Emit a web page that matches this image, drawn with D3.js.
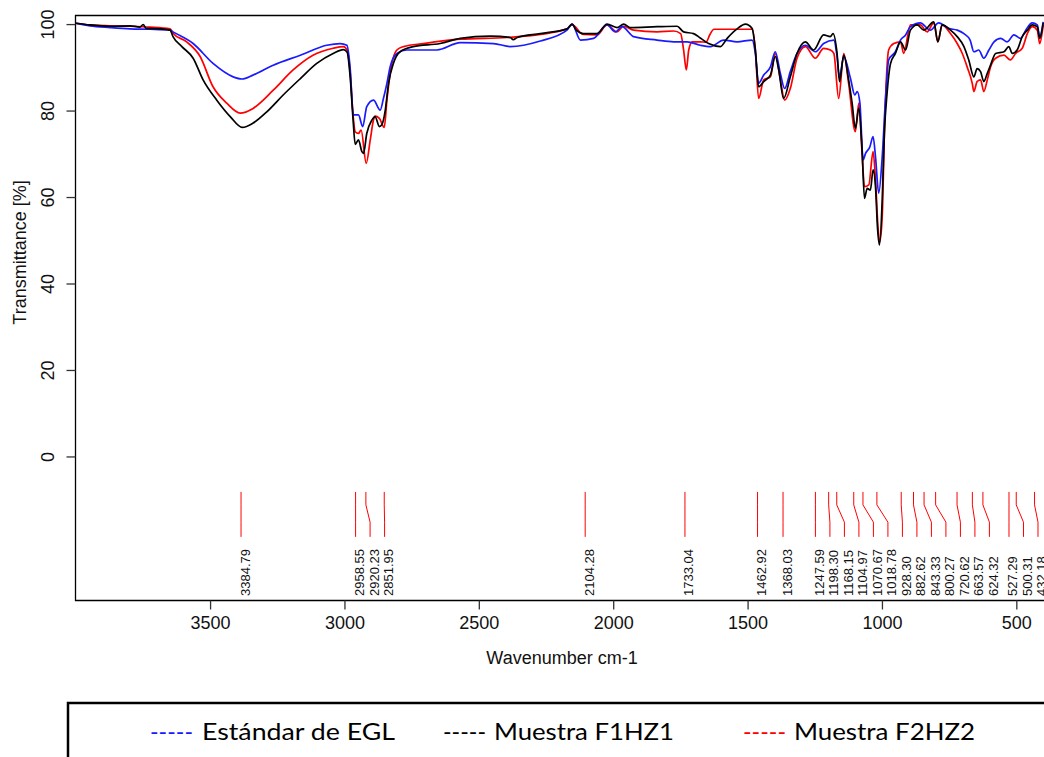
<!DOCTYPE html>
<html>
<head>
<meta charset="utf-8">
<script src="https://cdn.jsdelivr.net/npm/d3@7"></script>
<style>
  html, body { margin: 0; padding: 0; background: #fff; }
  svg { display: block; }
</style>
</head>
<body>
<svg id="chart" width="1044" height="757"></svg>
<script>
// FTIR spectra: wavenumber (cm-1) and transmittance (%)
const seriesEGL = [
  [4000,100.2],[3947,99.6],[3872,99.2],[3798,98.9],[3723,98.8],[3649,98.6],[3638,98.2],
  [3563,95.5],[3489,90.9],[3414,87.8],[3381,87.3],[3340,88.2],[3265,90.5],[3164,92.8],
  [3066,95.1],[3016,95.5],[2991,95.1],[2979,90.0],[2967,79.0],[2948,79.0],[2932,76.3],
  [2917,80.9],[2892,82.4],[2867,80.1],[2855,82.8],[2842,86.3],[2830,90.1],[2805,93.2],
  [2768,94.0],[2656,94.0],[2569,95.7],[2445,95.5],[2383,94.8],[2271,96.1],[2172,98.6],
  [2153,100.0],[2122,96.3],[2073,96.7],[2023,99.8],[1992,98.2],[1967,99.4],[1924,97.1],
  [1837,96.3],[1775,95.9],[1725,95.9],[1676,95.1],[1638,94.8],[1589,96.3],[1539,95.9],
  [1483,96.3],[1471,93.2],[1459,86.3],[1440,88.2],[1415,90.1],[1397,93.6],[1378,88.6],
  [1362,85.1],[1341,89.0],[1316,93.2],[1285,95.1],[1248,93.6],[1217,95.5],[1179,96.3],
  [1167,92.5],[1158,87.8],[1142,92.5],[1117,87.4],[1101,83.6],[1092,84.4],[1082,81.7],
  [1070,68.6],[1061,70.1],[1045,71.6],[1033,74.0],[1024,69.3],[1012,60.9],[999,69.3],
  [987,82.4],[975,91.7],[950,93.6],[931,96.3],[912,97.5],[894,99.4],[857,100.3],
  [820,98.6],[789,100.3],[752,99.0],[720,98.6],[695,97.8],[672,96.3],[658,93.6],
  [640,94.0],[621,92.1],[602,94.0],[583,95.9],[558,96.7],[534,95.9],[509,97.5],
  [484,96.7],[465,98.6],[441,100.3],[422,99.8],[413,97.1],[400,100.5]
];

const seriesF1HZ1 = [
  [4000,100.2],[3947,99.8],[3872,99.5],[3798,99.6],[3761,99.3],[3749,99.9],[3738,99.0],
  [3686,98.9],[3649,98.6],[3638,97.1],[3605,94.8],[3563,92.1],[3526,87.1],[3475,82.4],
  [3425,78.6],[3380,76.1],[3340,77.1],[3289,79.7],[3228,83.6],[3164,87.4],[3103,90.9],
  [3042,93.2],[3004,94.1],[2990,93.5],[2979,88.0],[2968,78.0],[2960,72.2],[2948,73.2],
  [2935,70.5],[2929,70.1],[2917,74.7],[2898,77.8],[2886,78.6],[2870,76.3],[2861,76.7],
  [2848,80.1],[2836,86.3],[2818,90.9],[2793,93.6],[2744,94.8],[2644,95.5],[2569,96.7],
  [2458,97.2],[2383,96.9],[2372,96.4],[2357,96.9],[2271,97.8],[2172,98.9],[2153,100.0],
  [2137,98.6],[2111,97.8],[2060,97.8],[2023,100.0],[1986,99.2],[1961,100.0],[1936,99.2],
  [1837,99.4],[1762,99.5],[1738,98.2],[1701,97.8],[1676,96.8],[1645,95.5],[1601,94.8],
  [1576,96.7],[1539,98.9],[1508,100.0],[1483,99.0],[1471,94.0],[1459,85.5],[1440,86.7],
  [1415,88.2],[1397,92.5],[1384,89.4],[1366,82.8],[1341,87.8],[1316,93.2],[1285,95.9],
  [1254,94.0],[1217,97.5],[1192,97.1],[1182,97.8],[1167,93.2],[1158,86.7],[1142,92.8],
  [1124,87.1],[1111,81.7],[1099,75.9],[1086,80.5],[1074,70.9],[1065,59.7],[1055,62.0],
  [1043,61.6],[1033,66.3],[1024,62.4],[1016,52.4],[1009,48.9],[999,59.3],[991,74.7],
  [981,84.0],[968,90.9],[950,93.2],[931,95.9],[912,94.0],[894,98.6],[869,99.8],
  [844,98.6],[807,100.5],[792,95.9],[776,99.8],[745,98.6],[720,97.1],[695,94.8],
  [677,91.7],[658,87.8],[646,89.7],[633,89.0],[621,86.7],[608,88.6],[596,90.5],
  [577,93.2],[546,93.6],[528,94.8],[515,93.2],[497,94.0],[478,97.1],[459,98.6],
  [441,99.8],[422,99.4],[413,96.7],[400,100.3]
];

const seriesF2HZ2 = [
  [4000,100.2],[3947,99.8],[3872,99.6],[3798,99.5],[3723,99.3],[3649,98.9],[3638,97.9],
  [3587,95.9],[3537,92.5],[3489,85.5],[3438,81.7],[3388,79.4],[3340,80.5],[3265,84.7],
  [3191,89.4],[3117,92.8],[3042,94.4],[3004,94.8],[2990,94.0],[2979,89.0],[2968,79.0],
  [2960,75.1],[2948,74.7],[2938,75.5],[2919,67.8],[2904,73.2],[2892,77.8],[2886,78.7],
  [2870,78.2],[2852,76.1],[2842,82.4],[2830,88.6],[2805,94.0],[2780,94.8],[2706,95.5],
  [2569,96.5],[2395,96.9],[2271,97.6],[2172,98.9],[2153,99.8],[2111,97.6],[2060,97.5],
  [2023,99.8],[1986,98.2],[1961,99.5],[1924,98.6],[1837,98.2],[1775,98.4],[1749,97.8],
  [1738,94.0],[1728,89.4],[1719,94.0],[1706,95.9],[1676,95.9],[1655,95.8],[1640,97.6],
  [1625,98.8],[1483,98.8],[1471,94.0],[1459,82.8],[1440,87.1],[1415,87.8],[1397,93.2],
  [1378,87.1],[1362,82.4],[1341,85.1],[1316,92.1],[1285,94.8],[1248,92.1],[1217,94.4],
  [1192,94.0],[1179,93.2],[1161,82.8],[1142,93.2],[1124,86.3],[1099,75.1],[1086,81.7],
  [1074,70.1],[1065,62.4],[1049,62.8],[1033,70.5],[1024,64.0],[1014,52.4],[1008,49.7],
  [999,55.5],[991,74.7],[975,94.0],[956,95.5],[931,95.9],[919,93.2],[894,99.8],
  [857,99.8],[832,98.2],[807,100.3],[792,95.9],[776,99.8],[745,97.8],[720,95.5],
  [701,93.2],[683,90.1],[664,86.3],[658,84.4],[646,86.7],[633,87.1],[621,84.4],
  [608,87.1],[596,90.1],[577,92.1],[546,92.8],[522,91.7],[503,93.2],[478,94.4],
  [459,97.8],[441,99.4],[422,98.6],[413,95.5],[400,99.8]
];

// Marked band positions (cm-1)
const peakWavenumbers = [
  3384.79, 2958.55, 2920.23, 2851.95, 2104.28, 1733.04, 1462.92, 1368.03,
  1247.59, 1198.30, 1168.15, 1104.97, 1070.67, 1018.78, 928.30, 882.62,
  843.33, 800.27, 720.62, 663.57, 624.32, 527.29, 500.31, 432.18
];

const xTickValues = [3500, 3000, 2500, 2000, 1500, 1000, 500];
const yTickValues = [0, 20, 40, 60, 80, 100];

const seriesNames = ["Estándar de EGL", "Muestra F1HZ1", "Muestra F2HZ2"];
const seriesColors = ["#1a1aff", "#000000", "#ff0000"];

const svg = d3.select("#chart");
const numFont = "'Liberation Sans', Arial, Helvetica, sans-serif";

const x = d3.scaleLinear().domain([4000, 400]).range([75.7, 1043.2]);
const y = d3.scaleLinear().domain([-33.2, 102.1]).range([600, 15]);

// Plot box (right side runs past the canvas)
svg.append("path")
  .attr("d", `M1060,15.5 H75.5 V600.5 H1060`)
  .attr("fill", "none").attr("stroke", "#000").attr("stroke-width", 1.3);

// X axis
const xAxis = svg.append("g")
  .attr("transform", "translate(0,600.5)")
  .call(d3.axisBottom(x).tickValues(xTickValues).tickSize(9).tickSizeOuter(0).tickPadding(6).tickFormat(d3.format("d")));
xAxis.select(".domain").remove();
xAxis.selectAll(".tick line").attr("stroke", "#333").attr("stroke-width", 1.3);
xAxis.selectAll(".tick text")
  .attr("font-family", numFont).attr("font-size", 18).attr("fill", "#111")
  .attr("dy", "0.75em");

svg.append("text")
  .attr("x", 562).attr("y", 664)
  .attr("text-anchor", "middle")
  .attr("font-family", numFont).attr("font-size", 18).attr("fill", "#111")
  .text("Wavenumber cm-1");

// Y axis with labels running parallel to the axis
const yAxis = svg.append("g")
  .attr("transform", "translate(75.5,0)")
  .call(d3.axisLeft(y).tickValues(yTickValues).tickSize(9).tickSizeOuter(0).tickFormat(d3.format("d")));
yAxis.select(".domain").remove();
yAxis.selectAll(".tick line").attr("stroke", "#333").attr("stroke-width", 1.3);
yAxis.selectAll(".tick text")
  .attr("font-family", numFont).attr("font-size", 18).attr("fill", "#111")
  .attr("x", null).attr("dy", null)
  .attr("text-anchor", "middle")
  .attr("transform", "translate(-22,0) rotate(-90)");

svg.append("text")
  .attr("transform", `translate(26,${(y(102.1) + y(-33.2)) / 2 - 55}) rotate(-90)`)
  .attr("text-anchor", "middle")
  .attr("font-family", numFont).attr("font-size", 18).attr("fill", "#111")
  .text("Transmittance [%]");

// Spectra
const line = d3.line()
  .x(d => x(d[0]))
  .y(d => y(d[1]))
  .curve(d3.curveMonotoneX);

svg.append("clipPath").attr("id", "plot-clip")
  .append("rect").attr("x", 76).attr("y", 16).attr("width", 1000).attr("height", 584);

const spectra = [
  { data: seriesF2HZ2, color: seriesColors[2] },
  { data: seriesEGL, color: seriesColors[0] },
  { data: seriesF1HZ1, color: seriesColors[1] }
];
svg.append("g").attr("clip-path", "url(#plot-clip)")
  .selectAll("path")
  .data(spectra)
  .join("path")
  .attr("d", d => line(d.data))
  .attr("fill", "none")
  .attr("stroke", d => d.color)
  .attr("stroke-width", 1.7)
  .attr("stroke-linejoin", "round");

// Band markers: labels pushed apart so they do not overlap
const minGap = 14.5;
const peaks = peakWavenumbers.slice().sort((a, b) => b - a).map(p => ({ p, px: x(p) }));
peaks.forEach((d, i) => {
  d.lx = i === 0 ? d.px : Math.max(d.px, peaks[i - 1].lx + minGap);
});

const markers = svg.append("g");
markers.selectAll("path")
  .data(peaks)
  .join("path")
  .attr("d", d => `M${d.px},${y(-8.2)} L${d.px},${y(-11.2)} L${d.lx},${y(-15.2)} L${d.lx},${y(-18.6)}`)
  .attr("fill", "none")
  .attr("stroke", "#ff0000")
  .attr("stroke-width", 1);

markers.selectAll("text")
  .data(peaks)
  .join("text")
  .attr("transform", d => `translate(${d.lx + 8.5},596) rotate(-90)`)
  .attr("font-family", numFont).attr("font-size", 13).attr("fill", "#111")
  .attr("text-anchor", "start")
  .text(d => d.p.toFixed(2));

// Legend
const legend = svg.append("g");
legend.append("rect")
  .attr("x", 68).attr("y", 703).attr("width", 1100).attr("height", 100)
  .attr("fill", "#fff").attr("stroke", "#000").attr("stroke-width", 2.5);

const legendItems = [
  { name: seriesNames[0], color: seriesColors[0], dashX: 150, textX: 202, textW: 193 },
  { name: seriesNames[1], color: seriesColors[1], dashX: 443, textX: 494, textW: 180 },
  { name: seriesNames[2], color: seriesColors[2], dashX: 743, textX: 794, textW: 181 }
];
legendItems.forEach(it => {
  legend.append("text")
    .attr("x", it.dashX).attr("y", 740)
    .attr("font-family", "Lato, 'Open Sans', sans-serif").attr("font-size", 24)
    .attr("fill", it.color)
    .attr("textLength", 43).attr("lengthAdjust", "spacingAndGlyphs")
    .text("-----");
  legend.append("text")
    .attr("x", it.textX).attr("y", 740)
    .attr("font-family", "Lato, 'Open Sans', sans-serif").attr("font-size", 24)
    .attr("fill", "#000")
    .attr("textLength", it.textW).attr("lengthAdjust", "spacingAndGlyphs")
    .text(it.name);
});
</script>
</body>
</html>
